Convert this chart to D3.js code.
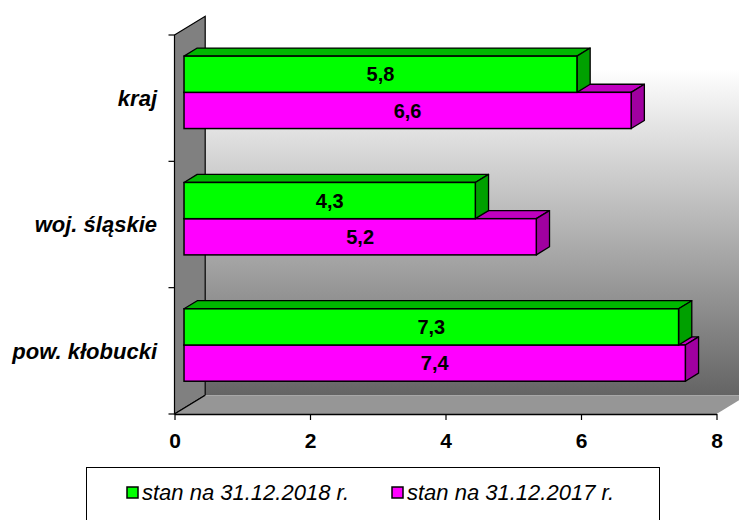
<!DOCTYPE html>
<html>
<head>
<meta charset="utf-8">
<script src="https://cdn.jsdelivr.net/npm/d3@7"></script>
<style>
  body { margin: 0; background: #fff; }
  svg { display: block; font-family: "Liberation Sans", Arial, sans-serif; }
</style>
</head>
<body>
<svg id="chart" width="739" height="520"></svg>
<script>
var categories = ['kraj', 'woj. śląskie', 'pow. kłobucki'];
var series = ['stan na 31.12.2018 r.', 'stan na 31.12.2017 r.'];
var values2018 = [5.8, 4.3, 7.3];
var values2017 = [6.6, 5.2, 7.4];
var xTicks = [0, 2, 4, 6, 8];

(function () {
  var svg = d3.select('#chart');

  // front plane of the 3d box
  var plotLeft = 174.5, plotRight = 716.5, plotTop = 35, plotBottom = 414;
  var depth = { x: 30.7, y: -18.8 };   // wall depth
  var barShift = { x: depth.x * 0.31, y: depth.y * 0.31 };  // bar front face
  var barDepth = { x: depth.x * 0.43, y: depth.y * 0.43 };

  var faceColors = [
    { front: '#00ff00', top: '#00b800', side: '#00a000' },
    { front: '#ff00ff', top: '#c000c0', side: '#a000a0' }
  ];

  var x = d3.scaleLinear().domain([0, 8]).range([plotLeft, plotRight]);
  var y = d3.scaleBand().domain(categories).range([plotTop, plotBottom]);
  var ySeries = d3.scaleBand().domain(series).range([0, y.bandwidth()]).paddingOuter(0.744);

  // back wall gradient
  var defs = svg.append('defs');
  var grad = defs.append('linearGradient')
    .attr('id', 'wallGrad')
    .attr('x1', 0).attr('y1', 0).attr('x2', 0).attr('y2', 1);
  grad.append('stop').attr('offset', '0%').attr('stop-color', '#ffffff');
  grad.append('stop').attr('offset', '14%').attr('stop-color', '#ffffff');
  grad.append('stop').attr('offset', '100%').attr('stop-color', '#646464');

  var bx = plotLeft + depth.x, by = plotTop + depth.y, bb = plotBottom + depth.y;

  svg.append('rect')
    .attr('x', bx).attr('y', by)
    .attr('width', plotRight + depth.x - bx).attr('height', bb - by)
    .attr('fill', 'url(#wallGrad)');

  // left wall
  svg.append('path')
    .attr('d', 'M' + plotLeft + ',' + plotTop + 'L' + bx + ',' + by + 'L' + bx + ',' + bb + 'L' + plotLeft + ',' + plotBottom + 'Z')
    .attr('fill', '#808080')
    .attr('stroke', '#000')
    .attr('stroke-width', 1.2);

  // floor
  svg.append('path')
    .attr('d', 'M' + plotLeft + ',' + plotBottom + 'L' + bx + ',' + bb + 'L' + (plotRight + depth.x) + ',' + bb + 'L' + plotRight + ',' + plotBottom + 'Z')
    .attr('fill', '#969696');
  svg.append('line')
    .attr('x1', plotLeft).attr('y1', plotBottom).attr('x2', bx).attr('y2', bb)
    .attr('stroke', '#000').attr('stroke-width', 1.2);

  // category tick marks on the left wall
  var yTickPos = categories.map(function (c) { return y(c); }).concat([plotBottom]);
  svg.selectAll('.ytick')
    .data(yTickPos)
    .enter().append('line')
    .attr('x1', plotLeft - 6).attr('x2', plotLeft)
    .attr('y1', function (d) { return d; }).attr('y2', function (d) { return d; })
    .attr('stroke', '#000').attr('stroke-width', 1.2);

  // x axis
  var xAxis = svg.append('g')
    .attr('transform', 'translate(0,' + plotBottom + ')')
    .call(d3.axisBottom(x).tickValues(xTicks).tickSize(6).tickSizeOuter(0).tickPadding(13));
  xAxis.select('.domain').attr('stroke', '#000').attr('stroke-width', 1.5);
  xAxis.selectAll('.tick line').attr('stroke', '#000').attr('stroke-width', 1.2);
  xAxis.selectAll('.tick text')
    .attr('font-family', '"Liberation Sans", Arial, sans-serif')
    .attr('font-size', 21).attr('font-weight', 'bold').attr('fill', '#000');

  // bars: lower (2017) bar first so the 2018 bar sits in front of its top face
  var rows = [];
  categories.forEach(function (c, i) {
    rows.push({ cat: c, s: 1, value: values2017[i] });
    rows.push({ cat: c, s: 0, value: values2018[i] });
  });

  function pts(p) { return p.map(function (q) { return q[0] + ',' + q[1]; }).join(' '); }

  svg.selectAll('.bar')
    .data(rows)
    .enter().append('g')
    .attr('class', 'bar')
    .each(function (d) {
      var g = d3.select(this);
      var x0 = x(0) + barShift.x, x1 = x(d.value) + barShift.x;
      var y0 = y(d.cat) + ySeries(series[d.s]) + barShift.y;
      var y1 = y0 + ySeries.bandwidth();
      var dx = barDepth.x, dy = barDepth.y;
      var col = faceColors[d.s];
      g.append('polygon')
        .attr('points', pts([[x0, y0], [x0 + dx, y0 + dy], [x1 + dx, y0 + dy], [x1, y0]]))
        .attr('fill', col.top).attr('stroke', '#000').attr('stroke-width', 1.3).attr('stroke-linejoin', 'round');
      g.append('polygon')
        .attr('points', pts([[x1, y0], [x1 + dx, y0 + dy], [x1 + dx, y1 + dy], [x1, y1]]))
        .attr('fill', col.side).attr('stroke', '#000').attr('stroke-width', 1.3).attr('stroke-linejoin', 'round');
      g.append('rect')
        .attr('x', x0).attr('y', y0).attr('width', x1 - x0).attr('height', y1 - y0)
        .attr('fill', col.front).attr('stroke', '#000').attr('stroke-width', 1.5);
      g.append('text')
        .attr('x', (x0 + x1) / 2).attr('y', (y0 + y1) / 2)
        .attr('dy', '0.36em')
        .attr('text-anchor', 'middle')
        .attr('font-size', 20).attr('font-weight', 'bold')
        .text(String(d.value).replace('.', ','));
    });

  // category labels
  svg.selectAll('.cat')
    .data(categories)
    .enter().append('text')
    .attr('x', 157)
    .attr('y', function (d) { return y(d) + y.bandwidth() / 2; })
    .attr('dy', '0.36em')
    .attr('text-anchor', 'end')
    .attr('font-size', 22).attr('font-weight', 'bold').attr('font-style', 'italic')
    .text(function (d) { return d; });

  // legend
  var legend = svg.append('g');
  legend.append('rect')
    .attr('x', 86.5).attr('y', 467.5).attr('width', 573).attr('height', 60)
    .attr('fill', '#fff').attr('stroke', '#000').attr('stroke-width', 1);
  var legendX = [127, 392];
  series.forEach(function (s, i) {
    legend.append('rect')
      .attr('x', legendX[i]).attr('y', 487).attr('width', 11).attr('height', 11)
      .attr('fill', faceColors[i].front).attr('stroke', '#000').attr('stroke-width', 1.5);
    legend.append('text')
      .attr('x', legendX[i] + 15).attr('y', 499.5)
      .attr('font-size', 22).attr('font-style', 'italic')
      .text(s);
  });
})();
</script>
</body>
</html>
